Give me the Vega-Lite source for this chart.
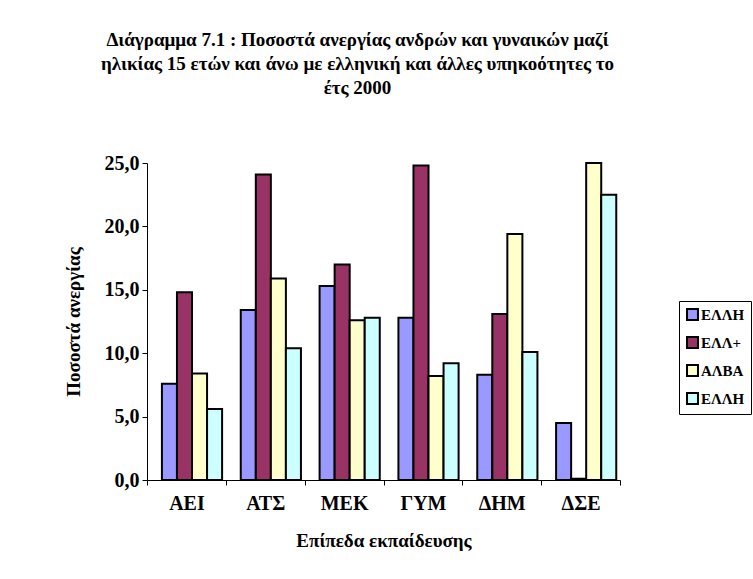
{
  "$schema": "https://vega.github.io/schema/vega-lite/v6.json",
  "width": 473,
  "height": 317,
  "autosize": "none",
  "padding": {"left": 147, "top": 163, "right": 133, "bottom": 99},
  "background": "white",
  "title": {
    "text": ["Διάγραμμα 7.1 : Ποσοστά ανεργίας ανδρών και γυναικών μαζί", "ηλικίας 15 ετών και άνω με ελληνική και άλλες υπηκοότητες το", "έτς 2000"],
    "font": "Liberation Serif",
    "fontSize": 19,
    "fontWeight": "bold",
    "color": "black",
    "anchor": "middle",
    "lineHeight": 24,
    "offset": 55,
    "dx": -26
  },
  "data": {
    "values": [
      {"level": "ΑΕΙ", "series": "ΕΛΛΗ", "value": 7.6},
      {"level": "ΑΕΙ", "series": "ΕΛΛ+", "value": 14.8},
      {"level": "ΑΕΙ", "series": "ΑΛΒΑ", "value": 8.4},
      {"level": "ΑΕΙ", "series": "ΕΛΛΗ ", "value": 5.6},
      {"level": "ΑΤΣ", "series": "ΕΛΛΗ", "value": 13.4},
      {"level": "ΑΤΣ", "series": "ΕΛΛ+", "value": 24.1},
      {"level": "ΑΤΣ", "series": "ΑΛΒΑ", "value": 15.9},
      {"level": "ΑΤΣ", "series": "ΕΛΛΗ ", "value": 10.4},
      {"level": "ΜΕΚ", "series": "ΕΛΛΗ", "value": 15.3},
      {"level": "ΜΕΚ", "series": "ΕΛΛ+", "value": 17.0},
      {"level": "ΜΕΚ", "series": "ΑΛΒΑ", "value": 12.6},
      {"level": "ΜΕΚ", "series": "ΕΛΛΗ ", "value": 12.8},
      {"level": "ΓΥΜ", "series": "ΕΛΛΗ", "value": 12.8},
      {"level": "ΓΥΜ", "series": "ΕΛΛ+", "value": 24.8},
      {"level": "ΓΥΜ", "series": "ΑΛΒΑ", "value": 8.2},
      {"level": "ΓΥΜ", "series": "ΕΛΛΗ ", "value": 9.2},
      {"level": "ΔΗΜ", "series": "ΕΛΛΗ", "value": 8.3},
      {"level": "ΔΗΜ", "series": "ΕΛΛ+", "value": 13.1},
      {"level": "ΔΗΜ", "series": "ΑΛΒΑ", "value": 19.4},
      {"level": "ΔΗΜ", "series": "ΕΛΛΗ ", "value": 10.1},
      {"level": "ΔΣΕ", "series": "ΕΛΛΗ", "value": 4.5},
      {"level": "ΔΣΕ", "series": "ΕΛΛ+", "value": 0.1},
      {"level": "ΔΣΕ", "series": "ΑΛΒΑ", "value": 25.0},
      {"level": "ΔΣΕ", "series": "ΕΛΛΗ ", "value": 22.5}
    ]
  },
  "mark": {"type": "bar", "stroke": "black", "strokeWidth": 2},
  "encoding": {
    "x": {
      "field": "level",
      "type": "nominal",
      "sort": ["ΑΕΙ", "ΑΤΣ", "ΜΕΚ", "ΓΥΜ", "ΔΗΜ", "ΔΣΕ"],
      "scale": {"paddingInner": 0, "paddingOuter": 0},
      "axis": {
        "title": "Επίπεδα εκπαίδευσης",
        "labelAngle": 0,
        "tickBand": "extent",
        "labelFont": "Liberation Serif",
        "labelFontSize": 20,
        "labelFontWeight": "bold",
        "labelColor": "black",
        "labelPadding": 8,
        "titleFont": "Liberation Serif",
        "titleFontSize": 19,
        "titleFontWeight": "bold",
        "titleColor": "black",
        "titlePadding": 18,
        "domainColor": "black",
        "tickColor": "black",
        "tickSize": 5
      }
    },
    "xOffset": {
      "field": "series",
      "type": "nominal",
      "scale": {"domain": ["ΕΛΛΗ", "ΕΛΛ+", "ΑΛΒΑ", "ΕΛΛΗ "], "paddingInner": 0, "paddingOuter": 0.62, "align": 0.8}
    },
    "y": {
      "field": "value",
      "type": "quantitative",
      "scale": {"domain": [0, 25], "nice": false},
      "axis": {
        "title": "Ποσοστά ανεργίας",
        "values": [0, 5, 10, 15, 20, 25],
        "labelExpr": "replace(format(datum.value, '.1f'), '.', ',')",
        "grid": false,
        "labelFont": "Liberation Serif",
        "labelFontSize": 20,
        "labelFontWeight": "bold",
        "labelColor": "black",
        "labelPadding": 3,
        "titleFont": "Liberation Serif",
        "titleFontSize": 19,
        "titleFontWeight": "bold",
        "titleColor": "black",
        "titlePadding": 21,
        "domainColor": "black",
        "tickColor": "black",
        "tickSize": 5
      }
    },
    "color": {
      "field": "series",
      "type": "nominal",
      "scale": {
        "domain": ["ΕΛΛΗ", "ΕΛΛ+", "ΑΛΒΑ", "ΕΛΛΗ "],
        "range": ["#9999FF", "#993366", "#FFFFCC", "#CCFFFF"]
      },
      "legend": {
        "title": null,
        "orient": "none",
        "legendX": 532,
        "legendY": 138,
        "strokeColor": "black",
        "padding": 6,
        "symbolType": "square",
        "symbolSize": 120,
        "symbolStrokeColor": "black",
        "symbolStrokeWidth": 2,
        "symbolOpacity": 1,
        "labelFont": "Liberation Serif",
        "labelFontSize": 15,
        "labelFontWeight": "bold",
        "labelColor": "black",
        "labelOffset": 1,
        "rowPadding": 9
      }
    }
  },
  "config": {"view": {"stroke": null}}
}
